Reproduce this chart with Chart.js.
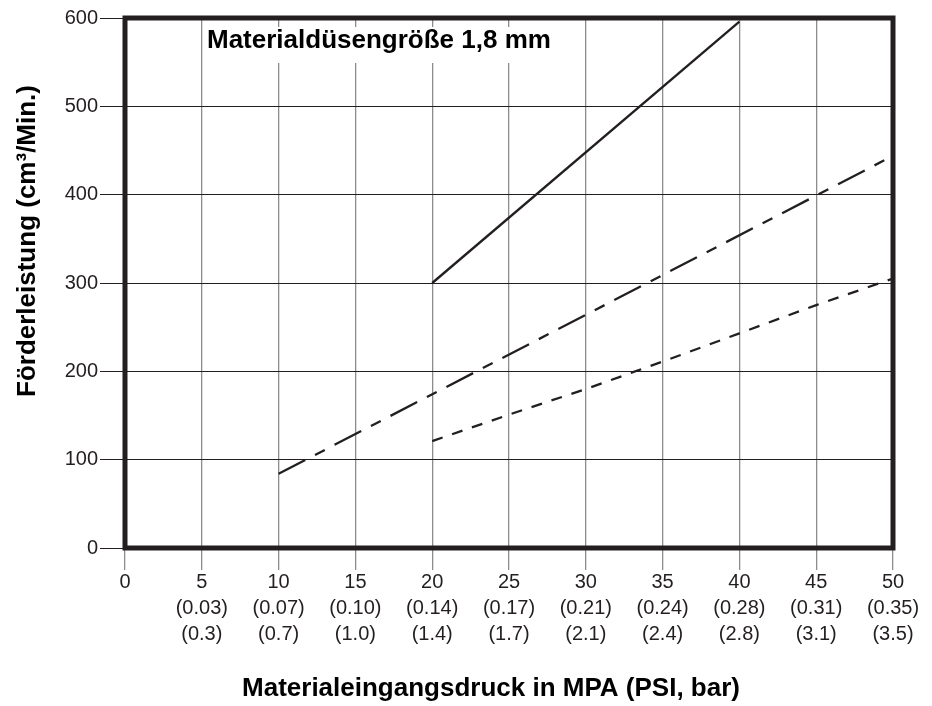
<!DOCTYPE html>
<html lang="de">
<head>
<meta charset="utf-8">
<title>Materialdüsengröße 1,8 mm</title>
<script src="https://cdn.jsdelivr.net/npm/chart.js@4.4.1/dist/chart.umd.min.js"></script>
<style>
  html, body { margin: 0; padding: 0; background: #fff; }
  #wrap { width: 932px; height: 706px; }
</style>
</head>
<body>
<div id="wrap"><canvas id="flowChart" width="932" height="706"></canvas></div>
<script>
// Materialeingangsdruck (x) – tick values and the PSI / bar lines under them
const pressureTicks = [0, 5, 10, 15, 20, 25, 30, 35, 40, 45, 50];
const psiLabels = ['', '0.03', '0.07', '0.10', '0.14', '0.17', '0.21', '0.24', '0.28', '0.31', '0.35'];
const barLabels = ['', '0.3', '0.7', '1.0', '1.4', '1.7', '2.1', '2.4', '2.8', '3.1', '3.5'];

// Förderleistung (cm³/Min.) – the three curves
const solidX = [20, 40];
const solidY = [300, 596];
const dashDotX = [10, 50];
const dashDotY = [84, 444];
const shortDashX = [20, 25, 30, 35, 40, 45, 50];
const shortDashY = [121, 151, 180, 211, 243, 275, 305];

const ink = '#231f20';
const fontFamily = '"Liberation Sans", Arial, Helvetica, sans-serif';
Chart.defaults.font.family = fontFamily;

function toPoints(xs, ys) {
  return xs.map((x, i) => ({ x: x, y: ys[i] }));
}

// white box + label inside the plot, axis titles and the heavy frame
const decorations = {
  id: 'decorations',
  beforeDatasetsDraw(chart) {
    const ctx = chart.ctx;
    ctx.save();
    ctx.fillStyle = '#fff';
    ctx.fillRect(204, 27, 358, 36);
    ctx.fillStyle = '#000';
    ctx.font = 'bold 26px ' + fontFamily;
    ctx.textAlign = 'left';
    ctx.textBaseline = 'alphabetic';
    ctx.fillText('Materialdüsengröße 1,8 mm', 207, 48);
    ctx.restore();
  },
  afterDatasetsDraw(chart) {
    const ctx = chart.ctx;
    const a = chart.chartArea;
    ctx.save();
    ctx.strokeStyle = ink;
    ctx.lineWidth = 5;
    ctx.strokeRect(a.left, a.top, a.right - a.left, a.bottom - a.top);
    ctx.restore();
  },
  afterDraw(chart) {
    const ctx = chart.ctx;
    ctx.save();
    ctx.fillStyle = '#000';
    ctx.font = 'bold 26px ' + fontFamily;
    ctx.textAlign = 'center';
    ctx.textBaseline = 'alphabetic';
    ctx.fillText('Materialeingangsdruck in MPA (PSI, bar)', 491, 696);
    ctx.translate(35, 241);
    ctx.rotate(-Math.PI / 2);
    ctx.fillText('Förderleistung (cm³/Min.)', 0, 0);
    ctx.restore();
  }
};

new Chart(document.getElementById('flowChart'), {
  type: 'line',
  data: {
    datasets: [
      {
        data: toPoints(solidX, solidY),
        borderColor: ink,
        borderWidth: 2.3,
        pointRadius: 0,
        tension: 0
      },
      {
        data: toPoints(dashDotX, dashDotY),
        borderColor: ink,
        borderWidth: 2.3,
        borderDash: [30, 11, 11, 11],
        pointRadius: 0,
        tension: 0
      },
      {
        data: toPoints(shortDashX, shortDashY),
        borderColor: ink,
        borderWidth: 2.3,
        borderDash: [11, 10],
        pointRadius: 0,
        tension: 0
      }
    ]
  },
  options: {
    responsive: false,
    animation: false,
    layout: { padding: { top: 18, right: 39, left: 0, bottom: 0 } },
    plugins: {
      legend: { display: false },
      tooltip: { enabled: false }
    },
    scales: {
      x: {
        type: 'linear',
        min: 0,
        max: 50,
        afterFit(scale) { scale.height = 158; },
        afterBuildTicks(scale) {
          scale.ticks = pressureTicks.map(v => ({ value: v }));
        },
        border: { display: false },
        grid: {
          color: '#8c8c8c',
          lineWidth: 1.3,
          tickLength: 22
        },
        ticks: {
          color: ink,
          padding: 0,
          maxRotation: 0,
          autoSkip: false,
          font: { size: 20, lineHeight: 1.285 },
          callback: function(value) {
            const i = pressureTicks.indexOf(value);
            if (i <= 0) return String(value);
            return [String(value), '(' + psiLabels[i] + ')', '(' + barLabels[i] + ')'];
          }
        }
      },
      y: {
        min: 0,
        max: 600,
        afterFit(scale) { scale.width = 125; },
        border: { display: false },
        grid: {
          color: ink,
          lineWidth: 1,
          tickLength: 25
        },
        ticks: {
          stepSize: 100,
          color: ink,
          padding: 2,
          font: { size: 20 }
        }
      }
    }
  },
  plugins: [decorations]
});
</script>
</body>
</html>
